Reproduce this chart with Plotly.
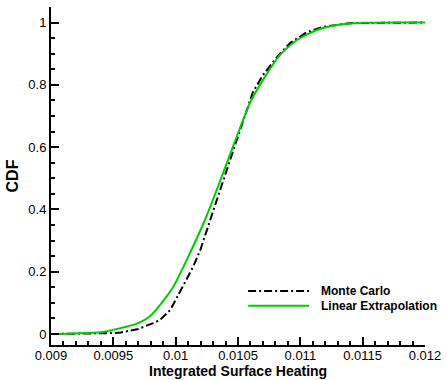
import plotly.graph_objects as go

# Monte Carlo CDF (black dash-dot)
mc_x = [0.0090, 0.0093, 0.0095, 0.00956, 0.0097, 0.00982, 0.009874, 0.009957, 0.010011,
        0.010139, 0.010198, 0.010275, 0.010383, 0.01050, 0.01062, 0.0107, 0.010813,
        0.010917, 0.011053, 0.011182, 0.0114, 0.0120]
mc_y = [0.0, 0.0005, 0.003, 0.005, 0.016, 0.035, 0.045, 0.077, 0.119,
        0.215, 0.27, 0.366, 0.494, 0.635, 0.777, 0.831, 0.889,
        0.934, 0.969, 0.986, 0.998, 1.0]

# Linear Extrapolation CDF (green solid)
le_x = [0.0090, 0.0092, 0.0094, 0.00955, 0.0097, 0.009796, 0.009874, 0.009979, 0.010115,
        0.010235, 0.010359, 0.010516, 0.010596, 0.0107, 0.010837, 0.010973, 0.011134,
        0.011294, 0.0115, 0.0120]
le_y = [0.0, 0.002, 0.006, 0.018, 0.035, 0.058, 0.093, 0.15, 0.26,
        0.366, 0.494, 0.661, 0.742, 0.815, 0.896, 0.944, 0.976,
        0.992, 0.999, 1.0]

x_tickvals = [0.009, 0.0095, 0.010, 0.0105, 0.011, 0.0115, 0.012]
x_ticktext = ["0.009", "0.0095", "0.01", "0.0105", "0.011", "0.0115", "0.012"]
y_tickvals = [0, 0.2, 0.4, 0.6, 0.8, 1.0]
y_ticktext = ["0", "0.2", "0.4", "0.6", "0.8", "1"]

series_names = ["Monte Carlo", "Linear Extrapolation"]
x_title = "Integrated Surface Heating"
y_title = "CDF"
BLACK_DASH = "8px,3px,2px,3px"
GREEN = "#00cc00"

fig = go.Figure()
fig.add_trace(go.Scatter(x=mc_x, y=mc_y, mode="lines", name=series_names[0],
                         line=dict(color="black", width=2, dash=BLACK_DASH),
                         showlegend=False))
fig.add_trace(go.Scatter(x=le_x, y=le_y, mode="lines", name=series_names[1],
                         line=dict(color=GREEN, width=2, shape="spline", smoothing=0.6),
                         showlegend=False))

# legend drawn in paper coordinates (plot area 338 px tall, from y=7 to 345)
legend_rows = [(0.160, "black", BLACK_DASH), (0.116, GREEN, "solid")]
for (yy, col, dsh), name in zip(legend_rows, series_names):
    fig.add_shape(type="line", xref="paper", yref="paper", x0=0.527, x1=0.69, y0=yy, y1=yy,
                  line=dict(color=col, width=2, dash=dsh))
    fig.add_annotation(xref="paper", yref="paper", x=0.717, y=yy, text="<b>%s</b>" % name,
                       showarrow=False, xanchor="left", yanchor="middle",
                       font=dict(family="Liberation Sans, Arial", size=12, color="black"))

# x-axis title at the bottom edge
fig.add_annotation(xref="paper", yref="paper", x=0.5, y=-35 / 338, text="<b>%s</b>" % x_title,
                   showarrow=False, xanchor="center", yanchor="bottom", borderpad=0,
                   font=dict(family="Liberation Sans, Arial", size=14, color="black"))

fig.update_layout(
    width=447, height=380,
    margin=dict(l=51, r=22, t=7, b=35),
    paper_bgcolor="white", plot_bgcolor="white",
    font=dict(family="Liberation Sans, Arial", size=13, color="black"),
)
fig.update_xaxes(
    range=[0.009, 0.012], showgrid=False, zeroline=False, automargin=False,
    showline=True, linecolor="black", linewidth=2,
    ticks="inside", ticklen=8, tickwidth=1.5, tickcolor="black",
    tickvals=x_tickvals, ticktext=x_ticktext, ticklabelstandoff=-3,
    minor=dict(tickvals=[0.009 + i * 0.0001 for i in range(31)], ticks="inside", ticklen=4,
               tickwidth=1.5, tickcolor="black"),
)
fig.update_yaxes(
    range=[-0.0353, 1.0498], showgrid=False, zeroline=False, automargin=False,
    showline=True, linecolor="black", linewidth=2,
    ticks="inside", ticklen=8, tickwidth=1.5, tickcolor="black",
    tickvals=y_tickvals, ticktext=y_ticktext,
    minor=dict(tickvals=[i * 0.05 for i in range(22)], ticks="inside", ticklen=4,
               tickwidth=1.5, tickcolor="black"),
    title=dict(text="<b>%s</b>" % y_title, font=dict(size=16), standoff=6),
)

fig.write_html("out.html")
